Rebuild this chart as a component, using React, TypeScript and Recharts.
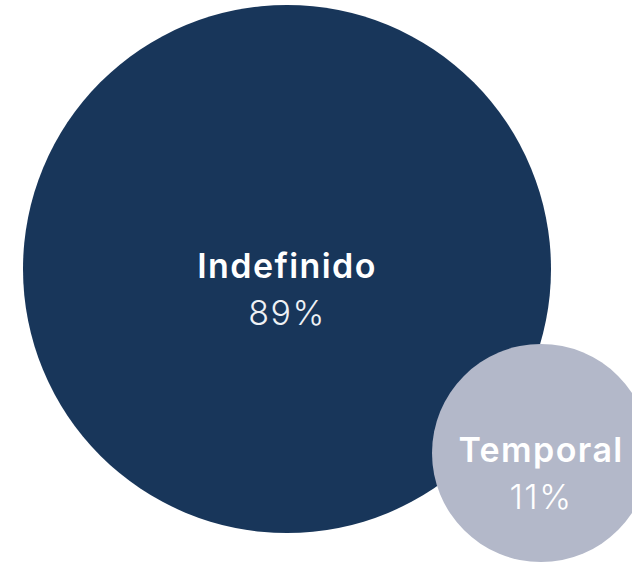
import { ScatterChart, Scatter, XAxis, YAxis, ZAxis } from "recharts";

// categorías y valores
const categories = ["Indefinido", "Temporal"];
const shares = [89, 11];
const posX = [287, 541];
const posY = [295, 111];
const colors = ["#18365A", "#B3B8C9"];
const pctColors = ["#EEF1F5", "#FFFFFF"];

const data = categories.map((name, i) => ({
  name,
  x: posX[i],
  y: posY[i],
  z: shares[i],
  fill: colors[i],
  pctColor: pctColors[i],
}));

const Bubble = (props: any) => {
  const { cx, cy, width, payload } = props;
  const r = width / 2;
  return (
    <g>
      <circle cx={cx} cy={cy} r={r} fill={payload.fill} />
      <text
        x={cx}
        y={cy + 9}
        textAnchor="middle"
        fill="#FFFFFF"
        fontSize={34}
        fontWeight={600}
        letterSpacing={1.4}
        fontFamily="Inter, 'Noto Sans', sans-serif"
      >
        {payload.name}
      </text>
      <text
        x={cx}
        y={cy + 56}
        textAnchor="middle"
        fill={payload.pctColor}
        fontSize={34}
        fontWeight={300}
        letterSpacing={1.5}
        fontFamily="Inter, 'Noto Sans', sans-serif"
      >
        {`${payload.z}%`}
      </text>
    </g>
  );
};

export default function App() {
  return (
    <div style={{ position: "absolute", left: 0, top: 0, width: 632, height: 564, background: "#fff" }}>
      <ScatterChart width={632} height={564} margin={{ top: 0, right: 0, bottom: 0, left: 0 }}>
        <XAxis type="number" dataKey="x" domain={[0, 632]} hide />
        <YAxis type="number" dataKey="y" domain={[0, 564]} hide />
        <ZAxis
          type="number"
          dataKey="z"
          domain={[11, 89]}
          range={[Math.PI * 109 * 109, Math.PI * 264 * 264]}
        />
        <Scatter data={data} shape={<Bubble />} isAnimationActive={false} />
      </ScatterChart>
    </div>
  );
}
